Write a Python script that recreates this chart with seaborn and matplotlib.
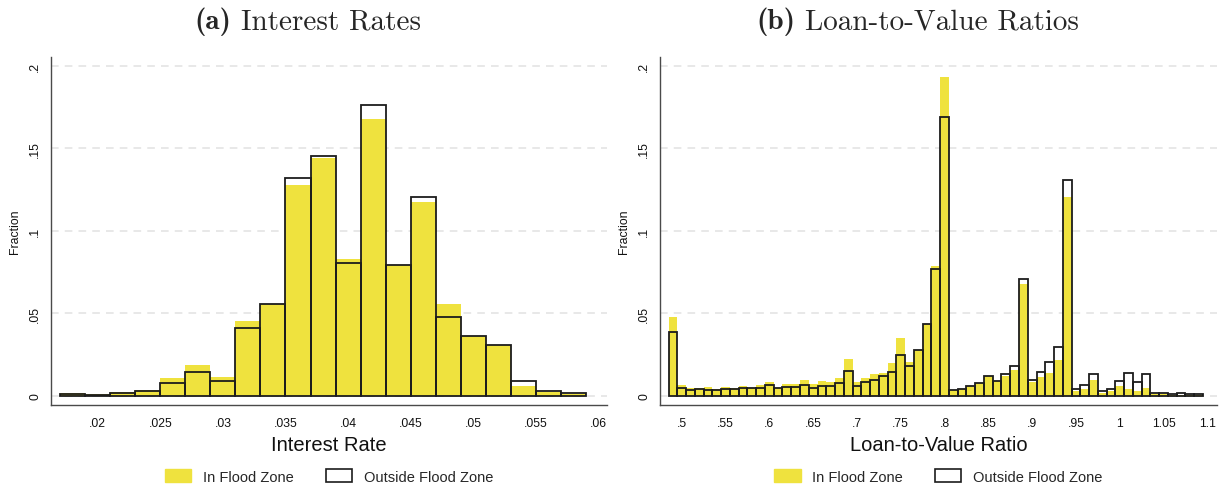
import numpy as np
import pandas as pd
import matplotlib
matplotlib.use("Agg")
import matplotlib.pyplot as plt
from matplotlib.patches import Patch
import seaborn as sns

# ---------------------------------------------------------------------------
# Data: fraction of mortgages per bin, in vs. outside the flood zone
# ---------------------------------------------------------------------------
# (a) Interest rates, bins of width .002 (bin centres)
rate_centers = [0.018, 0.020, 0.022, 0.024, 0.026, 0.028, 0.030, 0.032, 0.034,
                0.036, 0.038, 0.040, 0.042, 0.044, 0.046, 0.048, 0.050, 0.052,
                0.054, 0.056, 0.058]
rate_in_flood = [0.0015, 0.0010, 0.0024, 0.0033, 0.0107, 0.0186, 0.0111, 0.0453,
                 0.0556, 0.1277, 0.1439, 0.0828, 0.1677, 0.0792, 0.1172, 0.0554,
                 0.0364, 0.0309, 0.0057, 0.0022, 0.0010]
rate_outside = [0.0010, 0.0006, 0.0015, 0.0027, 0.0079, 0.0142, 0.0089, 0.0408,
                0.0556, 0.1319, 0.1451, 0.0802, 0.1762, 0.0792, 0.1202, 0.0479,
                0.0364, 0.0309, 0.0089, 0.0030, 0.0016]
rate_width = 0.002

# (b) Loan-to-value ratios, bins of width .01 (bin centres)
ltv_centers = [0.49, 0.50, 0.51, 0.52, 0.53, 0.54, 0.55, 0.56, 0.57, 0.58,
               0.59, 0.60, 0.61, 0.62, 0.63, 0.64, 0.65, 0.66, 0.67, 0.68,
               0.69, 0.70, 0.71, 0.72, 0.73, 0.74, 0.75, 0.76, 0.77, 0.78,
               0.79, 0.80, 0.81, 0.82, 0.83, 0.84, 0.85, 0.86, 0.87, 0.88,
               0.89, 0.90, 0.91, 0.92, 0.93, 0.94, 0.95, 0.96, 0.97, 0.98,
               0.99, 1.00, 1.01, 1.02, 1.03, 1.04, 1.05, 1.06, 1.07, 1.08,
               1.09]
ltv_in_flood = [0.0477, 0.0065, 0.0044, 0.0044, 0.0053, 0.0042, 0.0051, 0.0050,
                0.0057, 0.0046, 0.0065, 0.0081, 0.0050, 0.0069, 0.0069, 0.0095,
                0.0069, 0.0089, 0.0081, 0.0109, 0.0220, 0.0081, 0.0105, 0.0131,
                0.0139, 0.0200, 0.0349, 0.0202, 0.0279, 0.0432, 0.0786, 0.1933,
                0.0034, 0.0038, 0.0057, 0.0075, 0.0117, 0.0089, 0.0117, 0.0158,
                0.0675, 0.0085, 0.0111, 0.0137, 0.0216, 0.1206, 0.0030, 0.0042,
                0.0097, 0.0018, 0.0028, 0.0057, 0.0040, 0.0028, 0.0046, 0.0008,
                0.0008, 0.0004, 0.0004, 0.0004, 0.0006]
ltv_outside = [0.0388, 0.0048, 0.0034, 0.0038, 0.0032, 0.0036, 0.0038, 0.0042,
               0.0044, 0.0044, 0.0046, 0.0063, 0.0046, 0.0055, 0.0053, 0.0063,
               0.0048, 0.0061, 0.0061, 0.0077, 0.0149, 0.0061, 0.0083, 0.0093,
               0.0117, 0.0143, 0.0248, 0.0178, 0.0279, 0.0432, 0.0768, 0.1687,
               0.0032, 0.0038, 0.0057, 0.0077, 0.0117, 0.0089, 0.0131, 0.0182,
               0.0705, 0.0095, 0.0141, 0.0204, 0.0297, 0.1309, 0.0040, 0.0063,
               0.0129, 0.0030, 0.0042, 0.0091, 0.0135, 0.0081, 0.0129, 0.0018,
               0.0018, 0.0008, 0.0018, 0.0012, 0.0012]
ltv_width = 0.01

# Axis ticks and labels
y_ticks = [0, 0.05, 0.10, 0.15, 0.20]
y_tick_labels = ["0", ".05", ".1", ".15", ".2"]
rate_ticks = [0.02, 0.025, 0.03, 0.035, 0.04, 0.045, 0.05, 0.055, 0.06]
rate_tick_labels = [".02", ".025", ".03", ".035", ".04", ".045", ".05", ".055", ".06"]
ltv_ticks = [0.5, 0.55, 0.6, 0.65, 0.7, 0.75, 0.8, 0.85, 0.9, 0.95, 1.0, 1.05, 1.1]
ltv_tick_labels = [".5", ".55", ".6", ".65", ".7", ".75", ".8", ".85", ".9", ".95",
                   "1", "1.05", "1.1"]

series_labels = ["In Flood Zone", "Outside Flood Zone"]
panel_tags = ["(a)", "(b)"]
panel_titles = ["Interest Rates", "Loan-to-Value Ratios"]

# ---------------------------------------------------------------------------
# Styling
# ---------------------------------------------------------------------------
sns.set_style("white")
plt.rcParams["font.family"] = ["Liberation Sans", "DejaVu Sans"]

YELLOW = "#EFE23E"
OUTLINE = "#1c1c1c"
AXIS_GREY = "#4a4a4a"
GRID_GREY = "#e2e2e2"

W, H = 1225, 489
fig = plt.figure(figsize=(W / 100, H / 100), dpi=100)
ax_rate = fig.add_axes([51 / W, 83 / H, 556 / W, 348 / H])
ax_ltv = fig.add_axes([660 / W, 83 / H, 557 / W, 348 / H])


def draw_panel(ax, centers, inside, outside, width, xticks, xticklabels, xlabel, xlim):
    df = pd.DataFrame({"center": centers, "inside": inside, "outside": outside})
    lo = float(df["center"].min()) - width / 2
    hi = float(df["center"].max()) + width / 2
    hist_kw = dict(data=df, x="center", stat="count", binwidth=width,
                   binrange=(lo, hi), ax=ax)
    sns.histplot(weights="inside", color=YELLOW, alpha=1.0, linewidth=0, **hist_kw)
    sns.histplot(weights="outside", fill=False, color=OUTLINE, linewidth=1.3, **hist_kw)

    ax.set_xlim(*xlim)
    ax.set_ylim(-0.0056, 0.2053)
    ax.set_yticks(y_ticks)
    ax.set_yticklabels(y_tick_labels, rotation=90, va="center", fontsize=8.8)
    ax.set_xticks(xticks)
    ax.set_xticklabels(xticklabels, fontsize=8.8)

    ax.yaxis.grid(True, linestyle=(0, (5, 4)), color=GRID_GREY, linewidth=1.1)
    ax.xaxis.grid(False)
    ax.set_axisbelow(True)

    for side in ("top", "right"):
        ax.spines[side].set_visible(False)
    for side in ("left", "bottom"):
        ax.spines[side].set_color(AXIS_GREY)
        ax.spines[side].set_linewidth(1.0)
    ax.tick_params(axis="both", direction="out", length=4, width=0.9,
                   color=AXIS_GREY, labelcolor="#111111")
    ax.tick_params(axis="x", pad=5)
    ax.tick_params(axis="y", pad=3)

    ax.set_xlabel(xlabel, fontsize=14.5, color="#111111", labelpad=4)
    ax.set_ylabel("Fraction", fontsize=8.8, color="#111111", labelpad=6)

    handles = [Patch(facecolor=YELLOW, edgecolor=YELLOW, label=series_labels[0]),
               Patch(facecolor="white", edgecolor=OUTLINE, linewidth=1.2,
                     label=series_labels[1])]
    ax.legend(handles=handles, loc="center", bbox_to_anchor=(0.5, -0.205),
              ncol=2, frameon=False, fontsize=10.5, handlelength=1.8,
              handleheight=1.0, columnspacing=2.2, handletextpad=0.8)


draw_panel(ax_rate, rate_centers, rate_in_flood, rate_outside, rate_width,
           rate_ticks, rate_tick_labels, "Interest Rate", (0.01627, 0.06068))
draw_panel(ax_ltv, ltv_centers, ltv_in_flood, ltv_outside, ltv_width,
           ltv_ticks, ltv_tick_labels, "Loan-to-Value Ratio", (0.4752, 1.111))

# Panel titles: bold tag followed by a roman title, centred as one line
renderer = fig.canvas.get_renderer()
title_y = 1 - 22 / H
title_size = 21
for cx, tag, title in zip([308 / W, 918 / W], panel_tags, panel_titles):
    t_tag = fig.text(0, title_y, tag, family="cmb10", fontsize=title_size,
                     ha="left", va="center")
    t_main = fig.text(0, title_y, title, family="cmr10", fontsize=title_size,
                      ha="left", va="center")
    w_tag = t_tag.get_window_extent(renderer).width / W
    w_main = t_main.get_window_extent(renderer).width / W
    gap = 0.33 * title_size * 100 / 72 / W
    x0 = cx - (w_tag + gap + w_main) / 2
    t_tag.set_x(x0)
    t_main.set_x(x0 + w_tag + gap)

fig.savefig("out.png", dpi=100, facecolor="white")
